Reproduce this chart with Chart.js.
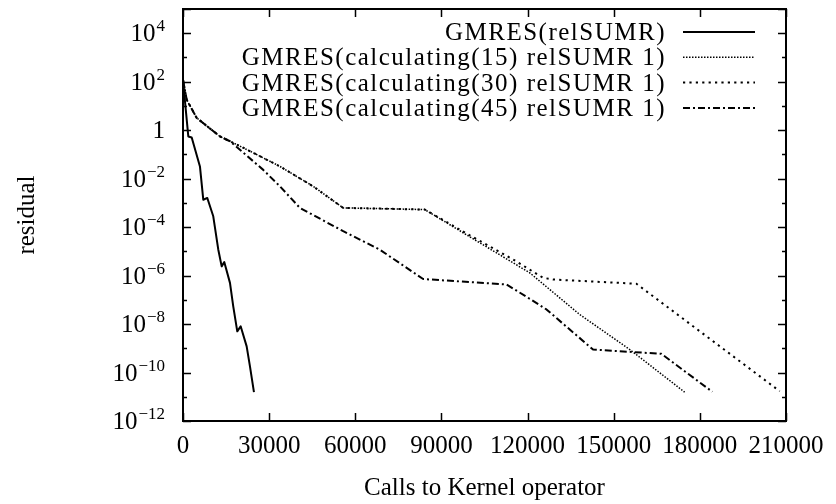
<!DOCTYPE html>
<html>
<head>
<meta charset="utf-8">
<script src="https://cdn.jsdelivr.net/npm/chart.js@4/dist/chart.umd.min.js"></script>
<style>
  html, body { margin: 0; padding: 0; background: #fff; }
  #wrap { width: 836px; height: 504px; }
</style>
</head>
<body>
<div id="wrap"><canvas id="plot" width="836" height="504"></canvas></div>
<script>
// Residual history of the four solver runs (x = kernel calls, y = residual)
const seriesLabels = [
  'GMRES(relSUMR)',
  'GMRES(calculating(15) relSUMR 1)',
  'GMRES(calculating(30) relSUMR 1)',
  'GMRES(calculating(45) relSUMR 1)'
];

const callsRelSUMR = [0, 600, 1850, 3030, 5900, 7060, 8460, 10540, 12280, 13470, 14370, 16360, 17500, 18900, 20080, 22170, 23320, 24710];
const residualRelSUMR = [120, 20, 0.55, 0.5, 0.032, 1.35e-3, 1.6e-3, 2.8e-4, 1.2e-5, 2.4e-6, 3.6e-6, 5.0e-7, 5.4e-8, 5.0e-9, 8.1e-9, 1.2e-9, 1.8e-10, 1.55e-11];

const callsCalc15 = [0, 1290, 4770, 12880, 16360, 22170, 33760, 45350, 55790, 68560, 84220, 100000, 120760, 138200, 155600, 174700];
const residualCalc15 = [120, 18, 3.2, 0.55, 0.35, 0.16, 0.032, 4.8e-3, 6.2e-4, 5.8e-4, 5.3e-4, 3.9e-5, 1.3e-6, 2.45e-8, 8.9e-10, 1.55e-11];

const callsCalc30 = [0, 1290, 4770, 12880, 16360, 22170, 33760, 45350, 55790, 68560, 84220, 100000, 115000, 125400, 128900, 157900, 207800];
const residualCalc30 = [120, 18, 3.2, 0.55, 0.35, 0.16, 0.032, 4.8e-3, 6.2e-4, 5.8e-4, 5.3e-4, 4.5e-5, 4.6e-6, 8.1e-7, 6.9e-7, 4.6e-7, 1.7e-11];

const callsCalc45 = [0, 1290, 4770, 12880, 16360, 27950, 33760, 40720, 55790, 68560, 83630, 112660, 120760, 126580, 142800, 166600, 184350];
const residualCalc45 = [120, 18, 3.2, 0.55, 0.35, 0.023, 4.8e-3, 6.2e-4, 6.8e-5, 1.17e-5, 7.2e-7, 4.3e-7, 1.1e-7, 4.0e-8, 8.9e-10, 5.9e-10, 1.6e-11];

// Axis ticks
const xTickValues = [0, 30000, 60000, 90000, 120000, 150000, 180000, 210000];
const yMajorExponents = [-12, -10, -8, -6, -4, -2, 0, 2, 4];
const yMinorExponents = [-11, -9, -7, -5, -3, -1, 1, 3];

const FONT = "'Liberation Serif', 'DejaVu Serif', serif";
const zip = (xs, ys) => xs.map((x, i) => ({ x, y: ys[i] }));

// gnuplot-style frame with inward tick marks on all four sides
const framePlugin = {
  id: 'frameTicks',
  afterDraw(chart) {
    const { ctx, chartArea: a, scales } = chart;
    const xs = scales.x, ys = scales.y;
    ctx.save();
    ctx.strokeStyle = '#000';
    ctx.lineWidth = 1.5;
    ctx.beginPath();
    yMajorExponents.concat([5]).forEach(e => {
      const p = Math.round(ys.getPixelForValue(Math.pow(10, e))) + 0.5;
      ctx.moveTo(a.left, p); ctx.lineTo(a.left + 8, p);
      ctx.moveTo(a.right, p); ctx.lineTo(a.right - 8, p);
    });
    yMinorExponents.forEach(e => {
      const p = Math.round(ys.getPixelForValue(Math.pow(10, e))) + 0.5;
      ctx.moveTo(a.left, p); ctx.lineTo(a.left + 4, p);
      ctx.moveTo(a.right, p); ctx.lineTo(a.right - 4, p);
    });
    xTickValues.forEach(v => {
      const p = Math.round(xs.getPixelForValue(v)) + 0.5;
      ctx.moveTo(p, a.bottom); ctx.lineTo(p, a.bottom - 8);
      ctx.moveTo(p, a.top); ctx.lineTo(p, a.top + 8);
    });
    ctx.stroke();
    ctx.lineWidth = 2;
    ctx.strokeRect(a.left, a.top, a.right - a.left, a.bottom - a.top);

    // y tick labels as powers of ten
    ctx.fillStyle = '#000';
    ctx.textAlign = 'right';
    ctx.textBaseline = 'alphabetic';
    const labelRight = a.left - 18;
    yMajorExponents.forEach(e => {
      const p = ys.getPixelForValue(Math.pow(10, e));
      if (e === 0) {
        ctx.font = `25px ${FONT}`;
        ctx.fillText('1', labelRight, p + 8);
        return;
      }
      const sup = e < 0 ? '\u2212' + Math.abs(e) : String(e);
      ctx.font = `17px ${FONT}`;
      const w = ctx.measureText(sup).width;
      ctx.fillText(sup, labelRight, p - 2);
      ctx.font = `25px ${FONT}`;
      ctx.fillText('10', labelRight - w - 1, p + 8);
    });
    ctx.restore();
  }
};

// Key in the upper right: right-aligned text followed by a line sample
const keyPlugin = {
  id: 'keyBox',
  afterDraw(chart) {
    const { ctx, chartArea: a } = chart;
    ctx.save();
    ctx.font = `25px ${FONT}`;
    ctx.letterSpacing = '1.5px';
    ctx.fillStyle = '#000';
    ctx.textAlign = 'right';
    ctx.textBaseline = 'alphabetic';
    chart.data.datasets.forEach((ds, i) => {
      const y = a.top + 23 + i * 25.3;
      ctx.fillText(ds.label, a.right - 120, y + 8);
      ctx.strokeStyle = '#000';
      ctx.lineWidth = ds.borderWidth;
      ctx.setLineDash(ds.borderDash || []);
      ctx.beginPath();
      ctx.moveTo(a.right - 103, y);
      ctx.lineTo(a.right - 31, y);
      ctx.stroke();
    });
    ctx.restore();
  }
};

const line = (label, xs, ys, width, dash) => ({
  label,
  data: zip(xs, ys),
  borderColor: '#000',
  borderWidth: width,
  borderDash: dash,
  borderCapStyle: 'butt',
  borderJoinStyle: 'round',
  pointRadius: 0,
  tension: 0,
  fill: false
});

new Chart(document.getElementById('plot'), {
  type: 'line',
  data: {
    datasets: [
      line(seriesLabels[0], callsRelSUMR, residualRelSUMR, 2, []),
      line(seriesLabels[1], callsCalc15, residualCalc15, 1.5, [1.5, 1.5]),
      line(seriesLabels[2], callsCalc30, residualCalc30, 2, [2.2, 4.2]),
      line(seriesLabels[3], callsCalc45, residualCalc45, 2, [7, 3, 2, 3])
    ]
  },
  options: {
    responsive: false,
    animation: false,
    devicePixelRatio: 1,
    layout: { padding: { top: 9, right: 50, left: 0, bottom: 0 } },
    plugins: { legend: { display: false }, tooltip: { enabled: false } },
    scales: {
      x: {
        type: 'linear',
        min: 0,
        max: 210000,
        afterFit(s) { s.height = 83; },
        afterBuildTicks(s) { s.ticks = xTickValues.map(v => ({ value: v })); },
        grid: { display: false, drawTicks: false },
        border: { display: false },
        ticks: {
          color: '#000',
          font: { family: FONT, size: 25 },
          padding: 10,
          maxRotation: 0,
          autoSkip: false,
          callback: v => String(v)
        },
        title: {
          display: true,
          text: 'Calls to Kernel operator',
          color: '#000',
          font: { family: FONT, size: 25 },
          padding: { top: 0, bottom: 1 }
        }
      },
      y: {
        type: 'logarithmic',
        min: 1e-12,
        max: 1e5,
        afterFit(s) { s.width = 183; },
        afterBuildTicks(s) { s.ticks = yMajorExponents.map(e => ({ value: Math.pow(10, e) })); },
        grid: { display: false, drawTicks: false },
        border: { display: false },
        ticks: { display: false },
        title: {
          display: true,
          text: 'residual',
          color: '#000',
          font: { family: FONT, size: 25 },
          padding: { top: 12, bottom: 0 }
        }
      }
    }
  },
  plugins: [framePlugin, keyPlugin]
});
</script>
</body>
</html>
